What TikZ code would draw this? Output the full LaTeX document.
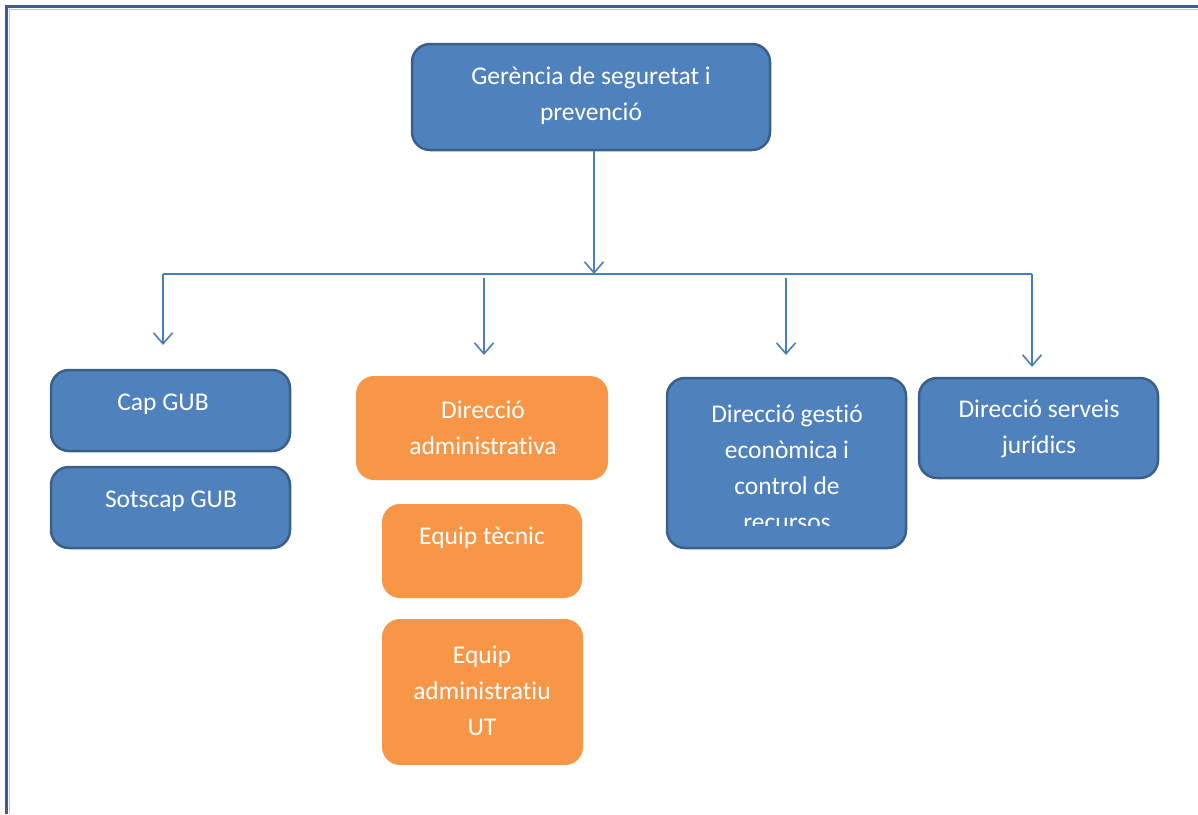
\documentclass[tikz,border=0pt]{standalone}
\usepackage{fontspec}
\setmainfont[Ligatures=NoCommon]{Carlito}
\usetikzlibrary{arrows.meta}
\definecolor{boxblue}{HTML}{4F81BD}
\definecolor{boxedge}{HTML}{3A5F8B}
\definecolor{boxorange}{HTML}{F79646}
\definecolor{lineblue}{HTML}{4A7EBB}
\definecolor{framedark}{HTML}{3B5F8F}
\definecolor{framelight}{HTML}{BCC9DB}
\begin{document}
\begin{tikzpicture}[x=1pt,y=-1pt,
  bluebox/.style={draw=boxedge, line width=2.5pt, fill=boxblue, rounded corners=18pt, inner sep=0pt},
  orangebox/.style={fill=boxorange, rounded corners=18pt, inner sep=0pt},
  lbl/.style={text=white, font=\fontsize{25.5}{36}\selectfont, align=center, inner sep=0pt},
  conn/.style={draw=lineblue, line width=1.6pt},
  arr/.style={conn, -{Straight Barb[length=11pt,width=19pt,line width=1.6pt]}}]
\useasboundingbox (0,0) rectangle (1198,814);
% frame
\draw[framelight, line width=1.5pt] (9,9.5) -- (1198,9.5);
\draw[framelight, line width=1.5pt] (9.5,9) -- (9.5,814);
\draw[framedark, line width=3.5pt] (5,6.5) -- (1198,6.5);
\draw[framedark, line width=3.5pt] (6.5,5) -- (6.5,814);
% boxes
\node[bluebox, minimum width=358pt, minimum height=106pt] (ger) at (591,97) {};
\node[bluebox, minimum width=239pt, minimum height=81pt] (cap) at (170.5,410.5) {};
\node[bluebox, minimum width=239pt, minimum height=81pt] (sots) at (170.5,507.5) {};
\node[orangebox, minimum width=252pt, minimum height=104pt] (dadm) at (482,428) {};
\node[orangebox, minimum width=200pt, minimum height=94pt] (etec) at (482,551) {};
\node[orangebox, minimum width=201pt, minimum height=146pt] (eadm) at (482.5,692) {};
\node[bluebox, minimum width=239pt, minimum height=170pt] (dgest) at (786.5,463) {};
\node[bluebox, minimum width=239pt, minimum height=100pt] (djur) at (1038.5,428) {};
% texts
\node[lbl] (tger) at (591,96) {Gerència de seguretat i\\prevenció};
\node[lbl] (tcap) at (163,404) {Cap GUB};
\node[lbl] (tsots) at (171,501) {Sotscap GUB};
\node[lbl] (tdadm) at (483,428) {Direcció\\administrativa};
\node[lbl] (tetec) at (482,538) {Equip tècnic};
\node[lbl] (teadm) at (482,691) {Equip\\administratiu\\UT};
\begin{scope}
\clip (667,378) rectangle (906,525);
\node[lbl] (tdgest) at (787,468) {Direcció gestió\\econòmica i\\control de\\recursos};
\end{scope}
\node[lbl] (tdjur) at (1039,429) {Direcció serveis\\jurídics};
% connectors
\coordinate (bus) at (594,274);
\coordinate (bl) at (163,274);
\coordinate (br) at (1032,274);
\coordinate (s2) at (484,278);
\coordinate (s3) at (786,278);
\coordinate (e1) at (163,345);
\coordinate (e2) at (484,355);
\coordinate (e3) at (786,355);
\coordinate (e4) at (1032,367);
\draw[arr] (ger.south -| bus) -- (bus);
\draw[conn] (bl) -- (br);
\draw[arr] (bl) -- (e1);
\draw[arr] (s2) -- (e2);
\draw[arr] (s3) -- (e3);
\draw[arr] (br) -- (e4);
\end{tikzpicture}
\end{document}
